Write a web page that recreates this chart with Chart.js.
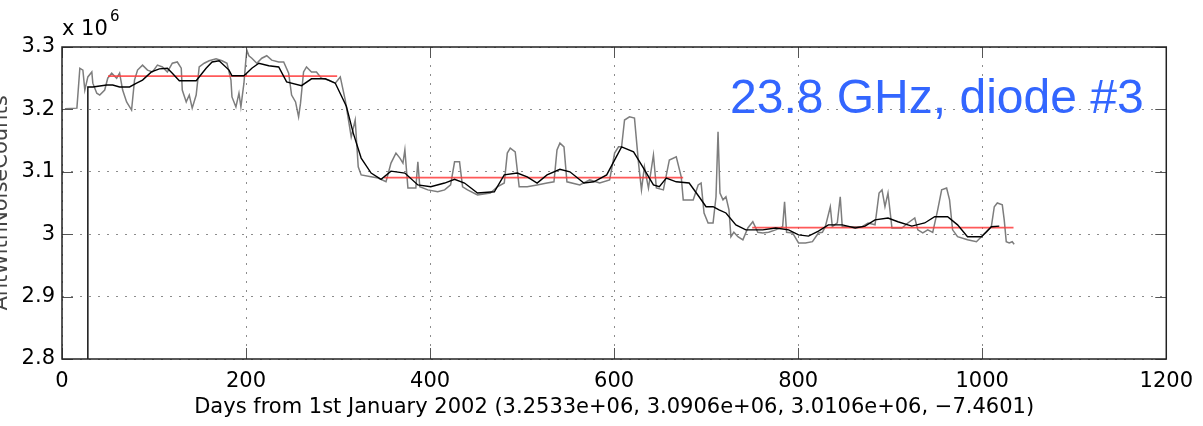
<!DOCTYPE html>
<html>
<head>
<meta charset="utf-8">
<script src="https://cdn.jsdelivr.net/npm/chart.js@4/dist/chart.umd.min.js"></script>
<style>
  html, body { margin: 0; padding: 0; background: #fff; overflow: hidden; }
  #wrap { position: absolute; left: -11px; top: 0; width: 1214px; height: 426px; }
</style>
</head>
<body>
<div id="wrap"><canvas id="noise-counts" width="1214" height="426"></canvas></div>
<script>
// Raw counts (x 10^6) against days from 1st January 2002
const rawDays = [3.2, 16.2, 19.4, 22.7, 24.8, 28.1, 32.4, 33.5, 37.8, 41.0, 46.4, 49.7, 54.0, 59.4, 62.6, 65.9, 70.2, 75.6, 78.8, 82.1,
  87.5, 92.9, 98.3, 103.7, 109.1, 114.5, 119.9, 125.3, 129.6, 130.7, 135.0, 138.3, 141.5, 145.8, 149.1, 154.5, 159.9, 167.4, 173.9, 179.3,
  183.6, 184.7, 189.0, 192.3, 194.4, 197.7, 199.8, 200.9, 203.1, 206.3, 211.7, 217.1, 222.5, 227.9, 235.5, 240.9, 246.3, 249.5, 253.8, 257.1,
  259.2, 262.5, 265.7, 271.1, 276.5, 281.9, 289.5, 297.0, 302.4, 307.8, 314.3, 318.6, 321.9, 325.1, 335.9, 343.5, 352.1, 357.5, 362.9, 367.2,
  370.5, 372.6, 375.9, 384.5, 386.7, 388.8, 397.5, 408.3, 415.8, 422.3, 426.6, 432.0, 435.3, 440.7, 451.5, 465.5, 473.1, 480.6, 483.9, 487.1,
  492.5, 496.8, 505.5, 516.3, 527.1, 534.6, 537.9, 541.1, 545.5, 548.7, 562.7, 573.5, 584.3, 595.1, 600.5, 604.8, 608.1, 611.3, 616.7, 622.1,
  626.5, 629.7, 632.9, 637.3, 642.7, 645.9, 653.5, 660.0, 667.5, 672.9, 675.1, 685.9, 691.3, 694.5, 697.7, 702.1, 707.5, 710.7, 712.9, 715.0,
  718.3, 721.5, 724.8, 726.9, 730.1, 734.5, 739.9, 745.3, 750.7, 756.1, 761.5, 767.9, 775.5, 783.1, 785.2, 787.4, 793.9, 800.4, 807.9, 815.5,
  822.0, 826.3, 829.5, 834.9, 837.1, 842.5, 845.7, 847.9, 858.7, 869.5, 876.0, 883.5, 887.9, 891.1, 894.3, 897.6, 901.9, 912.7, 919.2, 926.7,
  930.0, 935.4, 940.8, 946.2, 951.6, 955.9, 961.3, 964.5, 967.8, 973.2, 984.0, 993.7, 999.1, 1004.5, 1009.9, 1013.1, 1016.4, 1021.8, 1023.9, 1026.1,
  1029.3, 1032.6, 1034.7];
const rawCounts = [3.201, 3.202, 3.266, 3.263, 3.231, 3.252, 3.260, 3.242, 3.226, 3.223, 3.231, 3.250, 3.258, 3.250, 3.258, 3.231, 3.212, 3.199, 3.247, 3.263,
  3.271, 3.263, 3.260, 3.271, 3.268, 3.260, 3.274, 3.276, 3.266, 3.231, 3.212, 3.223, 3.202, 3.223, 3.268, 3.274, 3.278, 3.281, 3.278, 3.274,
  3.247, 3.220, 3.204, 3.226, 3.204, 3.242, 3.279, 3.295, 3.286, 3.282, 3.274, 3.282, 3.286, 3.279, 3.276, 3.276, 3.258, 3.223, 3.212, 3.188,
  3.210, 3.260, 3.268, 3.260, 3.260, 3.250, 3.247, 3.242, 3.252, 3.215, 3.156, 3.183, 3.108, 3.095, 3.092, 3.090, 3.084, 3.114, 3.130, 3.122,
  3.114, 3.135, 3.074, 3.074, 3.116, 3.076, 3.071, 3.068, 3.071, 3.079, 3.116, 3.116, 3.076, 3.071, 3.063, 3.066, 3.076, 3.082, 3.130, 3.138,
  3.132, 3.076, 3.076, 3.079, 3.082, 3.084, 3.135, 3.146, 3.140, 3.084, 3.079, 3.087, 3.082, 3.087, 3.130, 3.140, 3.140, 3.183, 3.188, 3.186,
  3.114, 3.071, 3.108, 3.074, 3.127, 3.074, 3.071, 3.119, 3.124, 3.092, 3.055, 3.055, 3.079, 3.082, 3.034, 3.018, 3.018, 3.060, 3.164, 3.066,
  3.055, 3.060, 3.039, 2.996, 3.003, 2.996, 2.991, 3.010, 3.020, 3.003, 3.002, 3.003, 3.007, 3.012, 3.052, 3.003, 3.002, 2.986, 2.986, 2.988,
  3.002, 3.003, 3.012, 3.044, 3.012, 3.018, 3.060, 3.012, 3.012, 3.012, 3.018, 3.015, 3.066, 3.071, 3.044, 3.066, 3.010, 3.010, 3.018, 3.026,
  3.007, 3.002, 3.007, 3.003, 3.039, 3.071, 3.074, 3.055, 3.007, 2.996, 2.991, 2.988, 2.996, 3.003, 3.012, 3.044, 3.050, 3.047, 3.023, 2.988,
  2.986, 2.988, 2.984];

// Smoothed counts
const smoothDays = [28.0, 28.1, 33.5, 48.6, 55.1, 62.6, 73.4, 81.0, 87.5, 97.2, 105.8, 114.5, 119.9, 127.5, 145.8, 156.6, 163.1, 170.7, 181.5, 184.7,
  197.7, 206.3, 213.9, 224.7, 235.5, 244.1, 260.3, 271.1, 286.2, 297.0, 309.0, 316.5, 325.1, 335.9, 346.7, 357.5, 372.6, 386.7, 400.7, 415.8,
  426.6, 437.4, 451.5, 469.8, 480.6, 494.7, 505.5, 516.3, 527.1, 541.1, 551.9, 567.1, 577.9, 591.9, 608.1, 621.1, 631.9, 642.7, 649.1, 656.7,
  667.5, 681.5, 692.3, 699.9, 707.5, 714.0, 721.5, 732.3, 743.1, 761.5, 775.5, 789.6, 800.4, 811.2, 822.0, 832.8, 847.9, 861.9, 872.7, 883.5,
  897.6, 908.4, 923.5, 937.5, 948.3, 962.4, 973.2, 984.0, 999.1, 1009.9, 1018.5];
const smoothCounts = [2.60, 3.236, 3.236, 3.239, 3.239, 3.236, 3.236, 3.242, 3.247, 3.260, 3.265, 3.266, 3.258, 3.246, 3.246, 3.266, 3.276, 3.278, 3.263, 3.254,
  3.254, 3.266, 3.274, 3.270, 3.268, 3.244, 3.238, 3.249, 3.249, 3.242, 3.205, 3.162, 3.122, 3.098, 3.088, 3.101, 3.098, 3.079, 3.076, 3.082,
  3.088, 3.082, 3.066, 3.068, 3.095, 3.098, 3.092, 3.082, 3.095, 3.104, 3.100, 3.082, 3.084, 3.095, 3.140, 3.132, 3.106, 3.079, 3.076, 3.090,
  3.084, 3.082, 3.060, 3.044, 3.044, 3.039, 3.034, 3.015, 3.007, 3.007, 3.010, 3.007, 2.999, 2.997, 3.005, 3.015, 3.015, 3.010, 3.013, 3.023,
  3.026, 3.020, 3.013, 3.018, 3.028, 3.028, 3.015, 2.996, 2.996, 3.012, 3.013];

// Fitted levels (x 10^6) and the day ranges they span
const fitLevels = [3.2533, 3.0906, 3.0106];
const fitStart = [50, 350, 750];
const fitEnd = [299, 675, 1034];

const xTicks = [0, 200, 400, 600, 800, 1000, 1200];
const yTicks = [2.8, 2.9, 3.0, 3.1, 3.2, 3.3];

const xTitle = "Days from 1st January 2002 (3.2533e+06, 3.0906e+06, 3.0106e+06, \u22127.4601)";
const yTitle = "AntWithNoiseCounts";
const noteText = "23.8 GHz, diode #3";

const axisFont = { family: "DejaVu Sans", size: 21 };

// frame, inner tick marks and the extra text
const framePlugin = {
  id: "frame",
  afterDatasetsDraw(chart) {
    const { ctx, chartArea: a, scales } = chart;
    ctx.save();
    ctx.strokeStyle = "#555";
    ctx.lineWidth = 1;
    const tl = 11;
    ctx.beginPath();
    xTicks.forEach(v => {
      const px = Math.round(scales.x.getPixelForValue(v)) + 0.5;
      ctx.moveTo(px, a.bottom); ctx.lineTo(px, a.bottom - tl);
      ctx.moveTo(px, a.top); ctx.lineTo(px, a.top + tl);
    });
    yTicks.forEach(v => {
      const py = Math.round(scales.y.getPixelForValue(v)) + 0.5;
      ctx.moveTo(a.left, py); ctx.lineTo(a.left + tl, py);
      ctx.moveTo(a.right, py); ctx.lineTo(a.right - tl, py);
    });
    ctx.stroke();
    ctx.strokeStyle = "#222";
    ctx.lineWidth = 1.5;
    ctx.strokeRect(a.left, a.top, a.right - a.left, a.bottom - a.top);

    ctx.fillStyle = "#000";
    ctx.textBaseline = "alphabetic";
    ctx.font = "21px 'DejaVu Sans'";
    ctx.fillText("x 10", a.left, 35);
    ctx.font = "15px 'DejaVu Sans'";
    ctx.fillText("6", a.left + 48, 21);

    ctx.fillStyle = "#3366ff";
    ctx.font = "48px 'Liberation Sans'";
    ctx.fillText(noteText, 741, 113);
    ctx.restore();
  }
};

const rawPoints = rawDays.map((d, i) => ({ x: d, y: rawCounts[i] }));
const smoothPoints = smoothDays.map((d, i) => ({ x: d, y: smoothCounts[i] }));
const fitSets = fitLevels.map((lvl, i) => ({
  data: [{ x: fitStart[i], y: lvl }, { x: fitEnd[i], y: lvl }],
  borderColor: "rgba(255, 60, 60, 0.85)",
  borderWidth: 1.6,
  pointRadius: 0,
  order: 2
}));

new Chart(document.getElementById("noise-counts"), {
  type: "line",
  data: {
    datasets: [
      { data: rawPoints, borderColor: "#7d7d7d", borderWidth: 1.5, pointRadius: 0, order: 3 },
      ...fitSets,
      { data: smoothPoints, borderColor: "#000", borderWidth: 1.4, pointRadius: 0, order: 1 }
    ]
  },
  options: {
    responsive: false,
    animation: false,
    layout: { padding: { left: 0, right: 30, top: 47, bottom: 0 } },
    plugins: { legend: { display: false }, tooltip: { enabled: false } },
    elements: { line: { tension: 0 } },
    scales: {
      x: {
        type: "linear",
        min: 0,
        max: 1200,
        afterFit: s => { s.height = 67; },
        afterBuildTicks: s => { s.ticks = xTicks.map(v => ({ value: v })); },
        ticks: { font: axisFont, color: "#000", padding: 10, maxRotation: 0, callback: v => String(v) },
        grid: { color: "rgba(0,0,0,0.45)", drawTicks: false },
        border: { display: false, dash: [2, 7] },
        title: { display: true, text: xTitle, font: axisFont, color: "#000", padding: { top: 0, bottom: 6 } }
      },
      y: {
        min: 2.8,
        max: 3.3,
        afterFit: s => { s.width = 73; },
        afterBuildTicks: s => { s.ticks = yTicks.map(v => ({ value: v })); },
        ticks: { font: axisFont, color: "#000", padding: 7, callback: v => String(Number(v.toFixed(1))) },
        grid: { color: "rgba(0,0,0,0.45)", drawTicks: false },
        border: { display: false, dash: [2, 7] },
        title: { display: true, text: yTitle, font: axisFont, color: "#444", padding: { top: 0, bottom: 0 } }
      }
    }
  },
  plugins: [framePlugin]
});
</script>
</body>
</html>
